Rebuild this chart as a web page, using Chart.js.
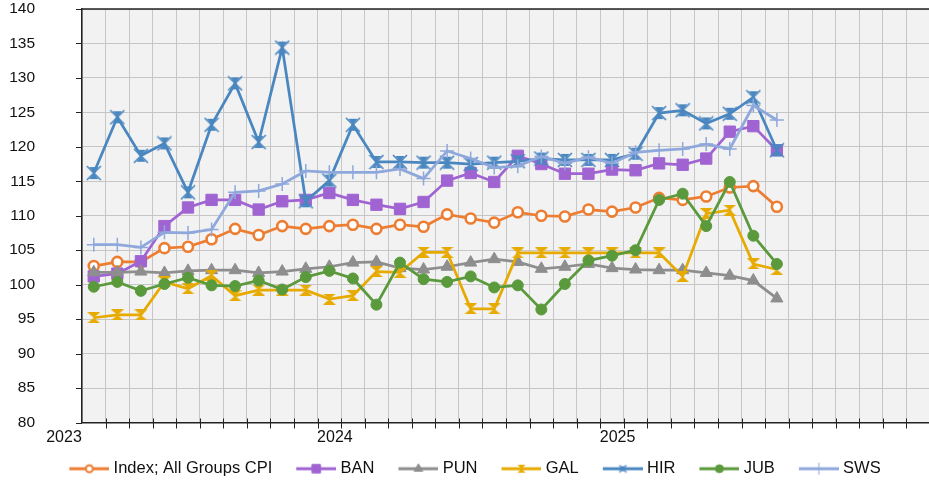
<!DOCTYPE html>
<html lang="en">
<head>
    <meta charset="UTF-8">
    <title>Regional CPI index</title>
    <script src="https://cdn.jsdelivr.net/npm/chart.js"></script>
    <style>
        html, body {
            margin: 0;
            padding: 0;
            background: #fff;
            overflow: hidden;
        }
    </style>
</head>
<body>
<canvas id="cpiChart" width="939" height="487"></canvas>
<script>
    // Monthly observations, Mar 2023 .. Aug 2025
    const months = [
        '2023-03', '2023-04', '2023-05', '2023-06', '2023-07', '2023-08', '2023-09', '2023-10', '2023-11', '2023-12',
        '2024-01', '2024-02', '2024-03', '2024-04', '2024-05', '2024-06', '2024-07', '2024-08', '2024-09', '2024-10',
        '2024-11', '2024-12', '2025-01', '2025-02', '2025-03', '2025-04', '2025-05', '2025-06', '2025-07', '2025-08'
    ];
    const axisMonths = 36;            // axis runs Mar 2023 .. Feb 2026
    const yearLabels = ['2023', '2024', '2025'];

    const cpi = [102.7, 103.3, 103.3, 105.3, 105.5, 106.6, 108.1, 107.2, 108.5, 108.1, 108.5, 108.7, 108.1, 108.7, 108.4,
                 110.2, 109.6, 109.0, 110.5, 110.0, 109.9, 110.9, 110.6, 111.2, 112.6, 112.3, 112.8, 114.1, 114.3, 111.3];
    const ban = [101.2, 101.6, 103.4, 108.5, 111.2, 112.3, 112.3, 110.9, 112.1, 112.3, 113.3, 112.3, 111.6, 111.0, 112.0,
                 115.1, 116.2, 114.9, 118.7, 117.5, 116.1, 116.1, 116.7, 116.6, 117.6, 117.4, 118.3, 122.2, 123.0, 119.5];
    const pun = [101.8, 101.8, 101.9, 101.7, 102.0, 102.1, 102.1, 101.7, 101.9, 102.3, 102.6, 103.2, 103.3, 102.4, 102.2,
                 102.6, 103.2, 103.7, 103.3, 102.3, 102.6, 103.0, 102.4, 102.2, 102.1, 102.1, 101.7, 101.3, 100.6, 98.0];
    const gal = [95.2, 95.6, 95.6, 100.4, 99.4, 101.3, 98.4, 99.2, 99.2, 99.2, 97.9, 98.4, 101.9, 101.8, 104.7,
                 104.7, 96.5, 96.5, 104.6, 104.6, 104.6, 104.6, 104.6, 104.6, 104.6, 101.2, 110.3, 110.8, 103.0, 102.2];
    const hir = [116.2, 124.3, 118.7, 120.5, 113.4, 123.2, 129.2, 120.7, 134.4, 112.1, 115.1, 123.2, 117.8, 117.8, 117.7,
                 117.7, 117.5, 117.7, 117.9, 118.3, 118.1, 118.1, 118.1, 119.0, 124.9, 125.3, 123.4, 124.8, 127.2, 119.5];
    const jub = [99.7, 100.4, 99.1, 100.1, 101.0, 99.9, 99.8, 100.6, 99.3, 101.1, 102.0, 100.9, 97.1, 103.2, 100.8,
                 100.4, 101.2, 99.6, 99.9, 96.4, 100.1, 103.5, 104.2, 105.0, 112.3, 113.2, 108.5, 114.9, 107.1, 103.0];
    const sws = [105.8, 105.8, 105.4, 107.6, 107.5, 108.0, 113.4, 113.6, 114.6, 116.5, 116.3, 116.3, 116.3, 116.8, 115.4,
                 119.4, 118.3, 117.0, 117.2, 118.6, 117.6, 118.5, 117.6, 119.2, 119.5, 119.7, 120.4, 119.7, 126.0, 123.9];

    const helpers = Chart.helpers;
    const FONT = '"Liberation Sans", Arial, sans-serif';

    // small offscreen canvases used as marker images
    function makeCanvas(w, h, draw) {
        const c = document.createElement('canvas');
        c.width = w;
        c.height = h;
        draw(c.getContext('2d'), w, h);
        return c;
    }

    function hourglass(color, w, h) {
        return makeCanvas(w, h, (ctx) => {
            ctx.fillStyle = color;
            ctx.beginPath();
            ctx.moveTo(0, 0); ctx.lineTo(w, 0); ctx.lineTo(w / 2, h / 2); ctx.closePath();
            ctx.moveTo(0, h); ctx.lineTo(w, h); ctx.lineTo(w / 2, h / 2); ctx.closePath();
            ctx.fill();
        });
    }

    function starX(color, s) {
        return makeCanvas(s, s, (ctx) => {
            const m = s / 2, q = s * 0.28;
            ctx.strokeStyle = color;
            ctx.fillStyle = color;
            ctx.lineWidth = 1.6;
            ctx.beginPath();
            ctx.moveTo(1, 1); ctx.lineTo(s - 1, s - 1);
            ctx.moveTo(s - 1, 1); ctx.lineTo(1, s - 1);
            ctx.stroke();
            ctx.beginPath();
            ctx.moveTo(m - q, 2); ctx.lineTo(m + q, 2); ctx.lineTo(m, m); ctx.closePath();
            ctx.moveTo(m - q, s - 2); ctx.lineTo(m + q, s - 2); ctx.lineTo(m, m); ctx.closePath();
            ctx.fill();
        });
    }

    // legend swatch: 40px line with a small marker in the middle
    const legendBoxWidth = 47;
    function legendIcon(color, marker) {
        const w = legendBoxWidth + 8, h = 14, start = w - 40;
        return makeCanvas(w, h, (ctx) => {
            ctx.strokeStyle = color;
            ctx.lineWidth = 3;
            ctx.beginPath();
            ctx.moveTo(start, h / 2);
            ctx.lineTo(w, h / 2);
            ctx.stroke();
            marker(ctx, (start + w) / 2, h / 2);
        });
    }

    function builtIn(style, radius, fill, stroke, bw) {
        return (ctx, x, y) => {
            ctx.fillStyle = fill;
            ctx.strokeStyle = stroke;
            ctx.lineWidth = bw;
            helpers.drawPoint(ctx, {pointStyle: style, radius: radius, borderWidth: bw, rotation: 0}, x, y);
        };
    }

    function imageMarker(img) {
        return (ctx, x, y) => ctx.drawImage(img, x - img.width / 2, y - img.height / 2);
    }

    // each month sits in the middle of its slot on the month axis
    function series(label, values, color, extra) {
        return Object.assign({
            label: label,
            data: values.map((v, i) => ({x: i + 0.5, y: v, month: months[i]})),
            borderColor: color,
            backgroundColor: color,
            borderWidth: 2.75,
            pointBorderColor: color,
            pointBackgroundColor: color,
            pointBorderWidth: 1,
            tension: 0,
            clip: false
        }, extra);
    }

    const colors = {
        cpi: '#ED7D31', ban: '#A064D2', pun: '#8E8E8E', gal: '#E6AA00',
        hir: '#4A87C0', jub: '#5A9A3C', sws: '#8FA8DC'
    };

    const datasets = [
        series('Index; All Groups CPI', cpi, colors.cpi, {
            order: 7, pointStyle: 'circle', pointRadius: 5, pointBorderWidth: 2.6, pointBackgroundColor: '#fff',
            legendIcon: legendIcon(colors.cpi, builtIn('circle', 3.5, '#fff', colors.cpi, 2))
        }),
        series('BAN', ban, colors.ban, {
            order: 6, pointStyle: 'rect', pointRadius: 8,
            legendIcon: legendIcon(colors.ban, builtIn('rect', 6, colors.ban, colors.ban, 1))
        }),
        series('PUN', pun, colors.pun, {
            order: 5, pointStyle: 'triangle', pointRadius: 7,
            legendIcon: legendIcon(colors.pun, builtIn('triangle', 5, colors.pun, colors.pun, 1))
        }),
        series('GAL', gal, colors.gal, {
            order: 4, pointStyle: hourglass(colors.gal, 13, 11),
            legendIcon: legendIcon(colors.gal, imageMarker(hourglass(colors.gal, 8, 8)))
        }),
        series('HIR', hir, colors.hir, {
            order: 3, pointStyle: starX(colors.hir, 16),
            legendIcon: legendIcon(colors.hir, imageMarker(starX(colors.hir, 9)))
        }),
        series('JUB', jub, colors.jub, {
            order: 2, pointStyle: 'circle', pointRadius: 5.5,
            legendIcon: legendIcon(colors.jub, builtIn('circle', 4, colors.jub, colors.jub, 1))
        }),
        series('SWS', sws, colors.sws, {
            order: 1, pointStyle: 'cross', pointRadius: 7, pointBorderWidth: 1.5,
            legendIcon: legendIcon(colors.sws, builtIn('cross', 6, colors.sws, colors.sws, 1))
        })
    ];

    // where each year label sits on the month axis (Jan of the year, nudged like the original)
    function yearLabelValue(year) {
        const janIndex = (Number(year) - Number(months[0].slice(0, 4))) * 12 - (Number(months[0].slice(5)) - 1);
        return Math.max(0, janIndex + 1.5);
    }

    const isMonthTick = (ctx) => ctx.tick && Number.isInteger(ctx.tick.value);

    // grey plot background, dark top border, short tick marks
    const plotFrame = {
        id: 'plotFrame',
        beforeDraw(chart) {
            const {ctx, chartArea: a} = chart;
            ctx.save();
            ctx.fillStyle = '#F2F2F2';
            ctx.fillRect(a.left, a.top, a.right - a.left, a.bottom - a.top);
            ctx.restore();
        },
        beforeDatasetsDraw(chart) {
            const {ctx, chartArea: a, scales} = chart;
            ctx.save();
            ctx.strokeStyle = '#222';
            ctx.lineWidth = 1;
            ctx.beginPath();
            for (let m = 1; m <= axisMonths; m++) {
                const x = Math.round(scales.x.getPixelForValue(m)) + 0.5;
                ctx.moveTo(x, a.bottom - 4);
                ctx.lineTo(x, a.bottom + 6);
            }
            scales.y.ticks.forEach((t) => {
                const y = Math.round(scales.y.getPixelForValue(t.value)) + 0.5;
                ctx.moveTo(a.left - 6, y);
                ctx.lineTo(a.left, y);
            });
            ctx.stroke();
            ctx.lineWidth = 1.5;
            ctx.beginPath();
            ctx.moveTo(a.left, a.top);
            ctx.lineTo(a.right, a.top);
            ctx.stroke();
            ctx.restore();
        }
    };

    const ctx = document.getElementById('cpiChart').getContext('2d');
    new Chart(ctx, {
        type: 'line',
        data: {datasets: datasets},
        plugins: [plotFrame],
        options: {
            responsive: false,
            animation: false,
            events: [],
            layout: {padding: {top: 0, right: 0, bottom: 0, left: 0}},
            scales: {
                x: {
                    type: 'linear',
                    min: 0,
                    max: axisMonths,
                    afterBuildTicks(scale) {
                        const ticks = [];
                        for (let m = 0; m <= axisMonths; m++) ticks.push({value: m});
                        yearLabels.forEach((y) => {
                            const v = yearLabelValue(y);
                            if (!Number.isInteger(v)) ticks.push({value: v});
                        });
                        ticks.sort((a, b) => a.value - b.value);
                        scale.ticks = ticks;
                    },
                    afterFit(scale) {
                        scale.height = 25;
                    },
                    ticks: {
                        autoSkip: false,
                        maxRotation: 0,
                        labelOffset: -18,
                        padding: 1,
                        color: '#111',
                        font: {family: FONT, size: 16, lineHeight: 1},
                        callback(value) {
                            const hit = yearLabels.find((y) => Math.abs(yearLabelValue(y) - value) < 1e-6);
                            return hit || '';
                        }
                    },
                    grid: {
                        color: (c) => isMonthTick(c) ? '#C6C6C6' : 'rgba(0,0,0,0)',
                        tickColor: 'rgba(0,0,0,0)',
                        tickLength: 6,
                        lineWidth: 1
                    },
                    border: {color: '#222', width: 1.5}
                },
                y: {
                    min: 80,
                    max: 140,
                    afterFit(scale) {
                        scale.width = 82;
                    },
                    ticks: {
                        stepSize: 5,
                        padding: 0,
                        color: '#111',
                        font: {family: FONT, size: 15.5, lineHeight: 1}
                    },
                    grid: {
                        color: '#C6C6C6',
                        tickColor: 'rgba(0,0,0,0)',
                        tickLength: 47,
                        lineWidth: 1
                    },
                    border: {color: '#222', width: 1.5}
                }
            },
            plugins: {
                tooltip: {enabled: false},
                legend: {
                    position: 'bottom',
                    labels: {
                        usePointStyle: true,
                        pointStyleWidth: legendBoxWidth,
                        padding: 13,
                        color: '#111',
                        font: {family: FONT, size: 16.5},
                        generateLabels: (chart) => chart.data.datasets.map((ds, i) => ({
                            text: ds.label,
                            pointStyle: ds.legendIcon,
                            fillStyle: ds.borderColor,
                            strokeStyle: ds.borderColor,
                            lineWidth: 0,
                            hidden: !chart.isDatasetVisible(i),
                            datasetIndex: i,
                            fontColor: '#111'
                        }))
                    }
                }
            }
        }
    });
</script>
</body>
</html>
